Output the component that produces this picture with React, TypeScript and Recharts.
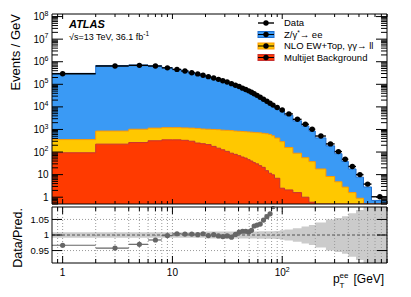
import React from 'react';
import { ComposedChart, Area, Scatter, ErrorBar, XAxis, YAxis, ReferenceLine } from 'recharts';

// pT(ee) bin edges in GeV
const binEdges = [0, 2, 4, 6, 8, 10, 12, 14, 16, 18, 20, 22.5, 25, 27.5, 30, 33, 36, 39, 42, 45, 48, 51, 54, 57, 61, 65, 70, 75, 80, 85, 95, 105, 125, 150, 175, 200, 250, 300, 350, 400, 470, 550, 650, 900];

// predicted events / GeV, one value per bin
const multijet = [93, 224, 263, 316, 347, 347, 331, 302, 251, 234, 214, 178, 148, 126, 107, 89, 79, 69, 60, 54, 46, 40, 34, 30, 25, 21, 15, 11.5, 9.8, 6.9, 2.5, 2.1, 1.6, 1.0, 0.6, 0.3, 0.25, 0.2, 0.2, 0.15, 0.15, 0.12, 0.1];
const ewTop = [262, 627, 760, 832, 855, 855, 844, 846, 860, 815, 809, 822, 829, 807, 805, 802, 772, 763, 753, 740, 730, 719, 707, 694, 683, 655, 631, 592, 515, 410, 286, 156, 87, 55, 37, 17.5, 8.0, 4.6, 2.6, 1.45, 0.75, 0.38, 0.2];
const zee = [304800, 673100, 712200, 655000, 536900, 454100, 386700, 321500, 287000, 249100, 218200, 189400, 165500, 144300, 125400, 107000, 90200, 77900, 66000, 57400, 50000, 43250, 36200, 30630, 25300, 20200, 16150, 12930, 10500, 7990, 6120, 4100, 2320, 1383, 815, 406, 180, 79.7, 35.2, 16.3, 6.8, 2.34, 0.42];

// data / prediction and relative uncertainty of the prediction
const ratio = [0.967, 0.958, 0.970, 0.984, 0.998, 1.004, 1.003, 1.003, 1.001, 1.004, 0.998, 1.001, 0.997, 0.995, 0.997, 0.993, 1.002, 1.009, 1.012, 1.012, 1.010, 1.015, 1.029, 1.032, 1.035, 1.048, 1.059, 1.068, 1.091, 1.11, 1.13, 1.15, 1.17, 1.18, 1.2, 1.21, 1.22, 1.24, 1.26, 1.28, 1.3, 1.34, 1.45];
const predUnc = [0.009, 0.009, 0.009, 0.009, 0.009, 0.009, 0.009, 0.009, 0.009, 0.009, 0.011, 0.011, 0.011, 0.011, 0.011, 0.011, 0.011, 0.011, 0.011, 0.011, 0.011, 0.011, 0.011, 0.011, 0.012, 0.012, 0.012, 0.012, 0.012, 0.013, 0.015, 0.018, 0.022, 0.027, 0.032, 0.04, 0.05, 0.055, 0.06, 0.07, 0.08, 0.1, 0.12];

const xTicks = [0.9, 1, 2, 3, 4, 5, 6, 7, 8, 9, 10, 20, 30, 40, 50, 60, 70, 80, 90, 100, 200, 300, 400, 500, 600, 700, 800, 900];
const yTicks = [0.5, 0.6, 0.7, 0.8, 0.9, 1, 2, 3, 4, 5, 6, 7, 8, 9, 10, 20, 30, 40, 50, 60, 70, 80, 90, 100, 200, 300, 400, 500, 600, 700, 800, 900, 1e3, 2e3, 3e3, 4e3, 5e3, 6e3, 7e3, 8e3, 9e3, 1e4, 2e4, 3e4, 4e4, 5e4, 6e4, 7e4, 8e4, 9e4, 1e5, 2e5, 3e5, 4e5, 5e5, 6e5, 7e5, 8e5, 9e5, 1e6, 2e6, 3e6, 4e6, 5e6, 6e6, 7e6, 8e6, 9e6, 1e7, 2e7, 3e7, 4e7, 5e7, 6e7, 7e7, 8e7, 9e7, 1e8];
const ratioTicks = [0.95, 1, 1.05];

const X_MIN = 0.8;
const X_MAX = 900;
const Y_MIN = 0.5;
const Y_MAX = 1.3e8;
const R_MIN = 0.91;
const R_MAX = 1.09;

const FONT = '"Liberation Sans", Arial, Helvetica, sans-serif';
const BLUE = '#3a9af5';
const YELLOW = '#ffc800';
const RED = '#ff3a00';

const nBins = zee.length;
const centers = binEdges.slice(0, -1).map((e, i) => (e + binEdges[i + 1]) / 2);
const lowEdge = (i: number) => Math.max(binEdges[i], X_MIN);
const stack = zee.map((z, i) => ({
  mj: multijet[i],
  ew: multijet[i] + ewTop[i],
  tot: multijet[i] + ewTop[i] + z,
}));

// step rows: one per bin edge, last edge repeats the last bin
const stepRows = binEdges.map((e, i) => {
  const k = Math.min(i, nBins - 1);
  return {
    x: Math.max(e, X_MIN),
    tot: Math.max(stack[k].tot, Y_MIN),
    ew: Math.max(stack[k].ew, Y_MIN),
    mj: Math.max(stack[k].mj, Y_MIN),
    band: [1 - predUnc[k], 1 + predUnc[k]],
  };
});

const dataPoints = centers.map((c, i) => ({
  x: c,
  y: stack[i].tot * ratio[i],
  xerr: [c - lowEdge(i), binEdges[i + 1] - c],
}));

const ratioPoints = centers
  .map((c, i) => ({ x: c, y: ratio[i], xerr: [c - lowEdge(i), binEdges[i + 1] - c] }))
  .filter((p) => p.y < R_MAX + 0.004);

const isDecade = (v: number) => Math.abs(Math.log10(v) - Math.round(Math.log10(v))) < 1e-6;

const powLabel = (v: number, x: number, y: number, anchor: 'end' | 'middle') => {
  const p = Math.round(Math.log10(v));
  if (p === 0 || p === 1) {
    return (
      <text x={x} y={y} textAnchor={anchor} fontSize={10} fontFamily={FONT} fill="#000">
        {p === 0 ? '1' : '10'}
      </text>
    );
  }
  return (
    <text x={x} y={y} textAnchor={anchor} fontSize={10} fontFamily={FONT} fill="#000">
      10<tspan dy={-4.5} fontSize={7}>{p}</tspan>
    </text>
  );
};

type Side = 'left' | 'right' | 'top' | 'bottom';

const logTick = (side: Side, majorLen: number, minorLen: number, labels: boolean) => (props: any) => {
  const { x, y, payload } = props;
  const v = payload.value;
  const major = isDecade(v);
  const len = major ? majorLen : minorLen;
  let end = { x, y };
  if (side === 'left') end = { x: x + len, y };
  if (side === 'right') end = { x: x - len, y };
  if (side === 'top') end = { x, y: y + len };
  if (side === 'bottom') end = { x, y: y - len };
  return (
    <g>
      <line x1={x} y1={y} x2={end.x} y2={end.y} stroke="#000" strokeWidth={1} />
      {labels && major && side === 'left' && powLabel(v, x - 3.5, y + 3.6, 'end')}
      {labels && major && side === 'bottom' && powLabel(v, x, y + 13, 'middle')}
    </g>
  );
};

const linTick = (side: Side, len: number, labels: boolean) => (props: any) => {
  const { x, y, payload } = props;
  const v = payload.value;
  const x2 = side === 'left' ? x + len : x - len;
  return (
    <g>
      <line x1={x} y1={y} x2={x2} y2={y} stroke="#000" strokeWidth={1} />
      {labels && (
        <text x={x - 3} y={y + 3.4} textAnchor="end" fontSize={9.5} fontFamily={FONT} fill="#000">
          {v === 1 ? '1' : v.toFixed(2)}
        </text>
      )}
    </g>
  );
};

const dot = (fill: string, r: number) => (p: any) => <circle cx={p.cx} cy={p.cy} r={r} fill={fill} />;

const legendItems = [
  { label: <>Z/γ<tspan dy={-3} fontSize={6.5}>*</tspan><tspan dy={3}>→ ee</tspan></>, fill: BLUE, stroke: '#1f6fd0' },
  { label: <>NLO EW+Top, γγ→ ll</>, fill: YELLOW, stroke: '#ff9900' },
  { label: <>Multijet Background</>, fill: RED, stroke: '#c83232' },
];

const axisLine = { stroke: '#000', strokeWidth: 1 };

export default function App() {
  return (
    <div style={{ position: 'absolute', left: 0, top: 0, width: 411, height: 297, background: '#fff', fontFamily: FONT }}>
      <div style={{ position: 'absolute', left: 0, top: 0 }}>
        <ComposedChart width={411} height={206} data={stepRows} margin={{ top: 13, right: 23, bottom: 1, left: 51 }}>
          <XAxis dataKey="x" type="number" scale="log" domain={[X_MIN, X_MAX]} allowDataOverflow ticks={xTicks} interval={0}
            height={1} tickSize={0} tickMargin={0} tickLine={false} axisLine={axisLine} tick={logTick('bottom', 5, 3, false)} />
          <XAxis xAxisId="top" orientation="top" dataKey="x" type="number" scale="log" domain={[X_MIN, X_MAX]} allowDataOverflow ticks={xTicks} interval={0}
            height={1} tickSize={0} tickMargin={0} tickLine={false} axisLine={axisLine} tick={logTick('top', 5, 3, false)} />
          <YAxis type="number" scale="log" domain={[Y_MIN, Y_MAX]} allowDataOverflow ticks={yTicks} interval={0}
            width={1} tickSize={0} tickMargin={0} tickLine={false} axisLine={axisLine} tick={logTick('left', 11, 6, true)} />
          <YAxis yAxisId="right" orientation="right" type="number" scale="log" domain={[Y_MIN, Y_MAX]} allowDataOverflow ticks={yTicks} interval={0}
            width={1} tickSize={0} tickMargin={0} tickLine={false} axisLine={axisLine} tick={logTick('right', 11, 6, false)} />
          <Area dataKey="tot" type="stepAfter" baseValue={Y_MIN} fill={BLUE} fillOpacity={1} stroke="#1f6fd0" strokeWidth={1} isAnimationActive={false} />
          <Area dataKey="ew" type="stepAfter" baseValue={Y_MIN} fill={YELLOW} fillOpacity={1} stroke="#ff9900" strokeWidth={1} isAnimationActive={false} />
          <Area dataKey="mj" type="stepAfter" baseValue={Y_MIN} fill={RED} fillOpacity={1} stroke="#c83232" strokeWidth={1} isAnimationActive={false} />
          <Scatter data={dataPoints} dataKey="y" shape={dot('#000', 2.7)} isAnimationActive={false}>
            <ErrorBar dataKey="xerr" direction="x" width={0} stroke="#000" strokeWidth={1.4} isAnimationActive={false} />
          </Scatter>
        </ComposedChart>
      </div>

      <div style={{ position: 'absolute', left: 0, top: 200 }}>
        <ComposedChart width={411} height={97} data={stepRows} margin={{ top: 6, right: 23, bottom: 33, left: 51 }}>
          <XAxis dataKey="x" type="number" scale="log" domain={[X_MIN, X_MAX]} allowDataOverflow ticks={xTicks} interval={0}
            height={1} tickSize={0} tickMargin={0} tickLine={false} axisLine={axisLine} tick={logTick('bottom', 7, 4, true)} />
          <XAxis xAxisId="top" orientation="top" dataKey="x" type="number" scale="log" domain={[X_MIN, X_MAX]} allowDataOverflow ticks={xTicks} interval={0}
            height={1} tickSize={0} tickMargin={0} tickLine={false} axisLine={axisLine} tick={logTick('top', 7, 4, false)} />
          <YAxis type="number" domain={[R_MIN, R_MAX]} allowDataOverflow ticks={ratioTicks} interval={0}
            width={1} tickSize={0} tickMargin={0} tickLine={false} axisLine={axisLine} tick={linTick('left', 10, true)} />
          <YAxis yAxisId="right" orientation="right" type="number" domain={[R_MIN, R_MAX]} allowDataOverflow ticks={ratioTicks} interval={0}
            width={1} tickSize={0} tickMargin={0} tickLine={false} axisLine={axisLine} tick={linTick('right', 10, false)} />
          <Area dataKey="band" type="stepAfter" fill="#cbcbcb" fillOpacity={1} stroke="none" isAnimationActive={false} />
          {xTicks.map((v) => (
            <ReferenceLine key={v} x={v} stroke="#9a9a9a" strokeDasharray="1 2" strokeWidth={1} />
          ))}
          <ReferenceLine y={1.05} stroke="#9a9a9a" strokeDasharray="1 2" />
          <ReferenceLine y={0.95} stroke="#9a9a9a" strokeDasharray="1 2" />
          <ReferenceLine y={1} stroke="#555" strokeDasharray="3 2" />
          <Scatter data={ratioPoints} dataKey="y" shape={dot('#666', 2.6)} isAnimationActive={false}>
            <ErrorBar dataKey="xerr" direction="x" width={0} stroke="#666" strokeWidth={1.2} isAnimationActive={false} />
          </Scatter>
        </ComposedChart>
      </div>

      <svg width={411} height={297} style={{ position: 'absolute', left: 0, top: 0, pointerEvents: 'none' }} fontFamily={FONT}>
        <text transform="translate(20,14) rotate(-90)" textAnchor="end" fontSize={13} fill="#000">Events / GeV</text>
        <text transform="translate(22,208) rotate(-90)" textAnchor="end" fontSize={12.5} fill="#000">Data/Pred.</text>
        <text x={333} y={283} fontSize={12} fill="#000">p</text>
        <text x={339.5} y={287.5} fontSize={8} fill="#000">T</text>
        <text x={339.5} y={277.5} fontSize={8} fill="#000">ee</text>
        <text x={353.5} y={283} fontSize={12} fill="#000">[GeV]</text>

        <text x={69} y={28.3} fontSize={11} fontWeight="bold" fontStyle="italic" fill="#000">ATLAS</text>
        <text x={69} y={39.5} fontSize={9} fill="#000">
          √s=13 TeV, 36.1 fb<tspan dy={-3.5} fontSize={6.5}>-1</tspan>
        </text>

        <line x1={258} y1={23} x2={274} y2={23} stroke="#000" strokeWidth={1.4} />
        <circle cx={266} cy={23} r={2.7} fill="#000" />
        <text x={284} y={26.3} fontSize={9.5} fill="#000">Data</text>
        {legendItems.map((it, i) => {
          const cy = 34.5 + i * 11.5;
          return (
            <g key={i}>
              <rect x={258} y={cy - 3} width={16} height={6} fill={it.fill} stroke={it.stroke} strokeWidth={1} />
              <line x1={258} y1={cy} x2={274} y2={cy} stroke="#000" strokeWidth={1} />
              <circle cx={266} cy={cy} r={2.7} fill="#000" />
              <text x={284} y={cy + 3.3} fontSize={9.5} fill="#000">{it.label}</text>
            </g>
          );
        })}
      </svg>
    </div>
  );
}
